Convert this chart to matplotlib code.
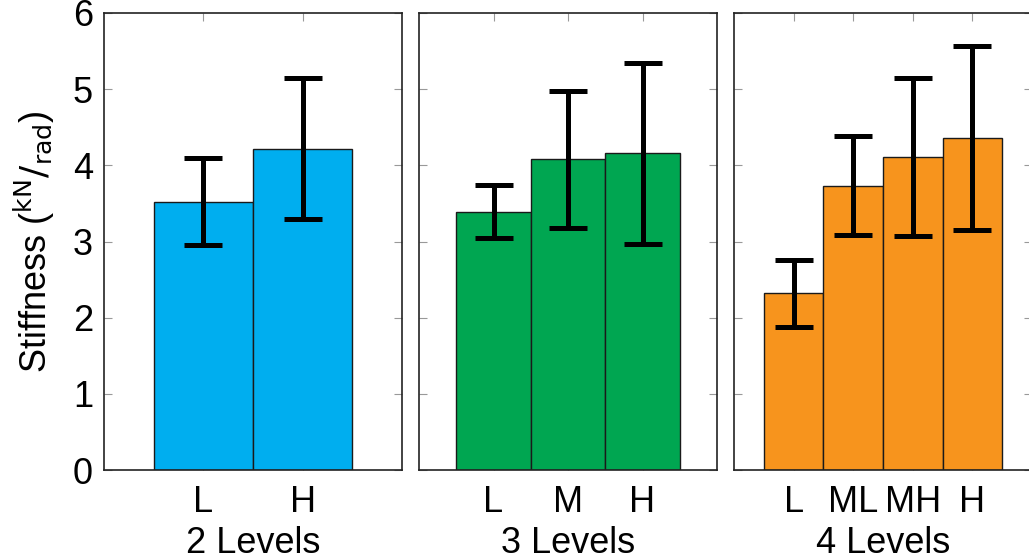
import matplotlib.pyplot as plt

plt.rcParams['font.family'] = ['Liberation Sans', 'DejaVu Sans']

# stiffness means and error half-widths for each number of levels
labels2 = ['L', 'H']
stiff2 = [3.52, 4.22]
err2 = [0.57, 0.93]

labels3 = ['L', 'M', 'H']
stiff3 = [3.39, 4.08, 4.16]
err3 = [0.35, 0.90, 1.19]

labels4 = ['L', 'ML', 'MH', 'H']
stiff4 = [2.32, 3.73, 4.11, 4.36]
err4 = [0.44, 0.65, 1.04, 1.21]

groups = [
    ('2 Levels', labels2, stiff2, err2, '#00aeef'),
    ('3 Levels', labels3, stiff3, err3, '#00a651'),
    ('4 Levels', labels4, stiff4, err4, '#f7941d'),
]

fig = plt.figure(figsize=(10.29, 5.59), dpi=100)
lefts = [104, 419, 734]

for i, (name, labs, vals, errs, col) in enumerate(groups):
    ax = fig.add_axes([lefts[i] / 1029, 89 / 559, 298 / 1029, 457 / 559])
    pos = list(range(1, len(vals) + 1))
    ax.bar(pos, vals, width=1.0, color=col, edgecolor='#1a1a1a', linewidth=1.0, zorder=2)
    ax.errorbar(pos, vals, yerr=errs, fmt='none', ecolor='black', elinewidth=3.6,
                capsize=13.5, capthick=3.6, zorder=3)
    ax.set_xlim(0, len(vals) + 1)
    ax.set_ylim(0, 6)
    ax.set_xticks(pos)
    ax.set_xticklabels(labs, fontsize=25)
    ax.set_yticks(range(7))
    ax.tick_params(direction='in', length=6, width=0.8, color='#999999',
                   top=True, right=True, labelsize=26, pad=8)
    ax.tick_params(axis='x', pad=11)
    if i == 0:
        ax.set_ylabel(r'Stiffness ($^{\mathrm{kN}}/_{\mathrm{rad}}$)', fontsize=26, labelpad=11)
    else:
        ax.set_yticklabels([])
    ax.set_xlabel(name, fontsize=26, labelpad=4)
    for s in ax.spines.values():
        s.set_linewidth(1.2)
        s.set_color('#222222')

fig.savefig('out.png', dpi=100)
